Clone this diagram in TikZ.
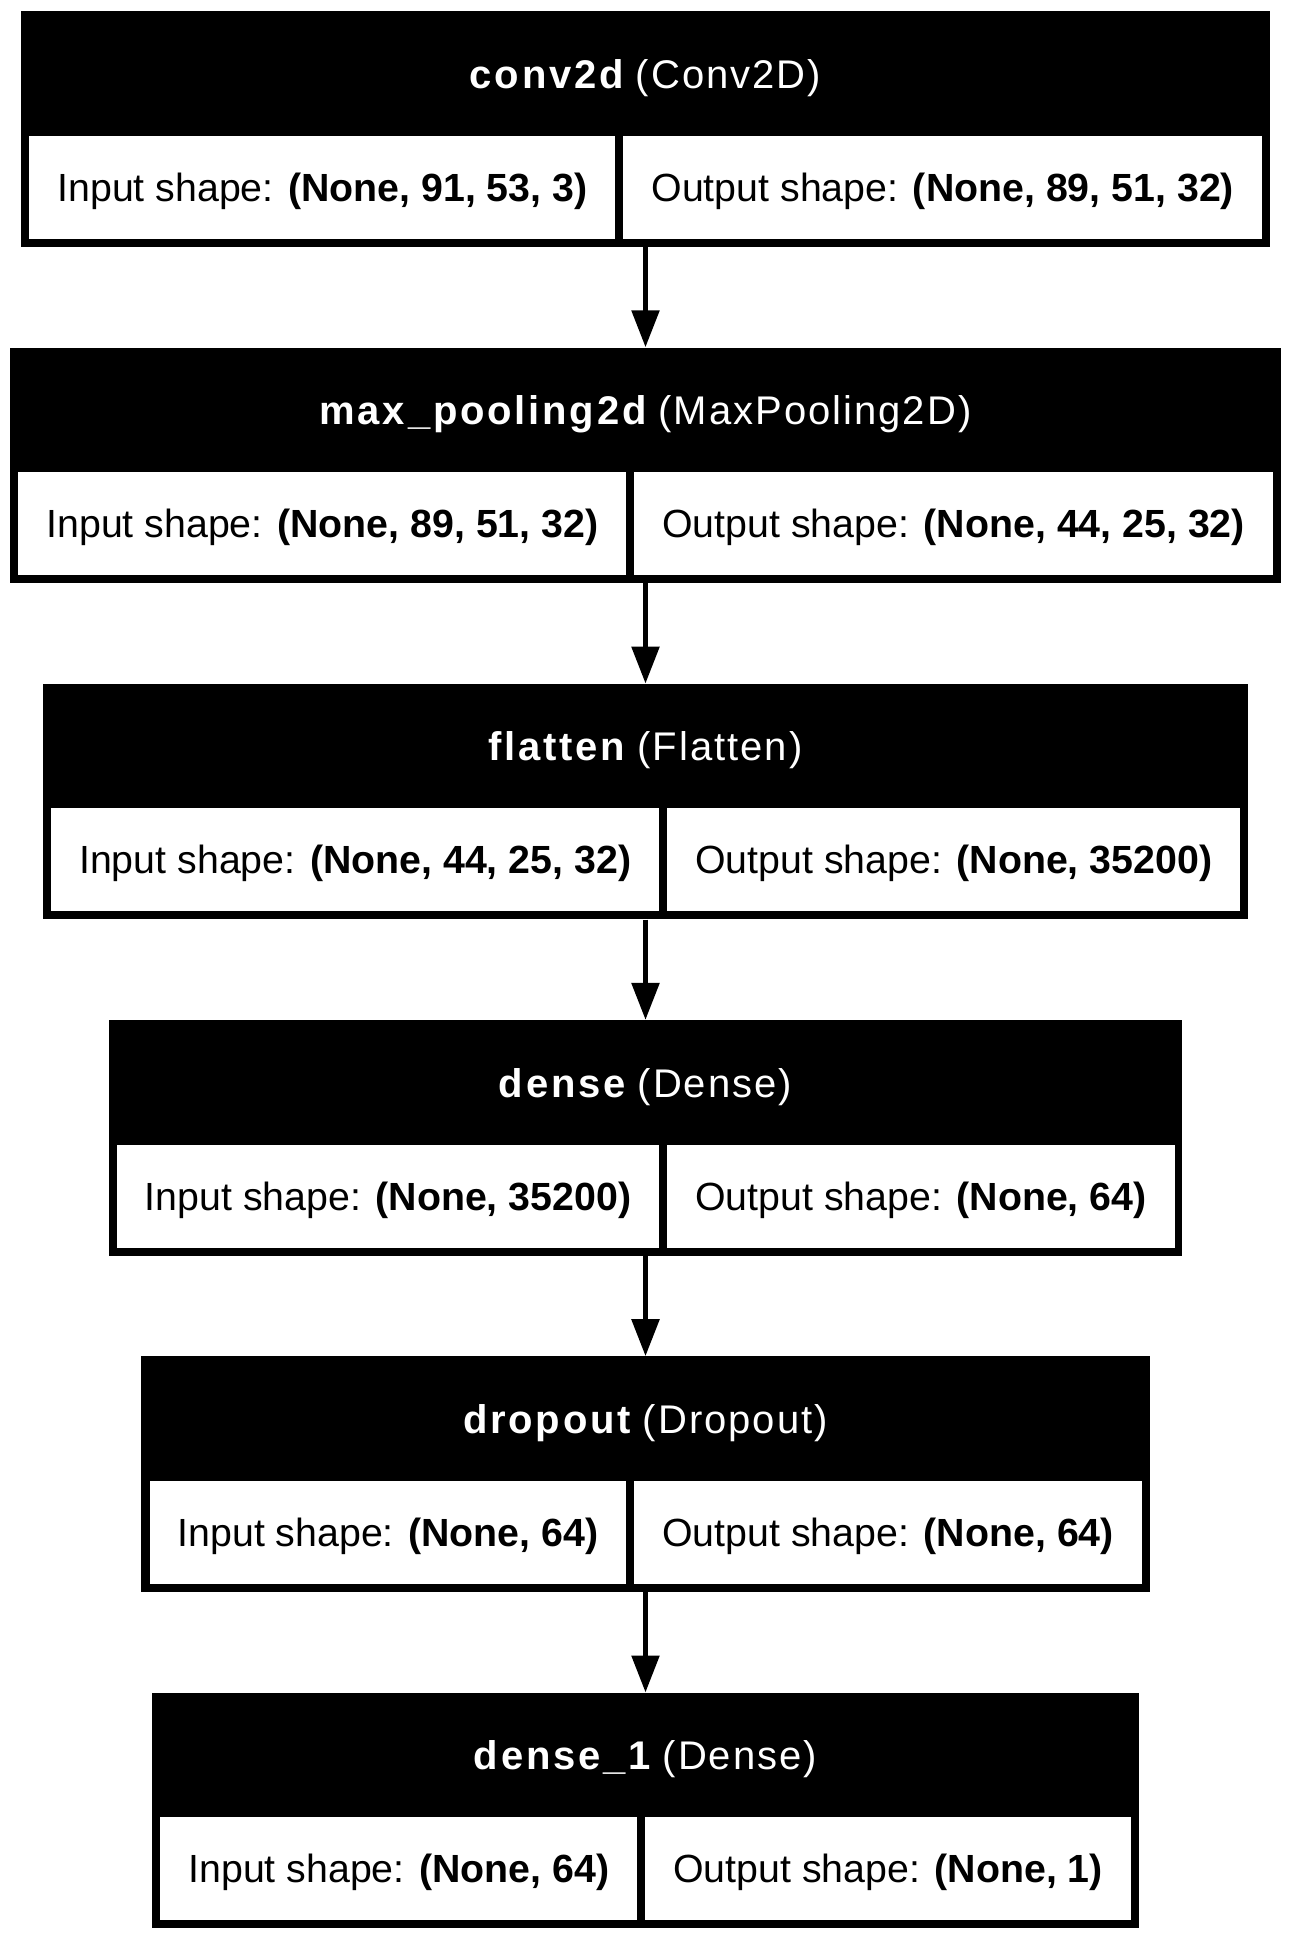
\documentclass[tikz,border=0pt]{standalone}
\usepackage{fontspec}
\setmainfont{Liberation Sans}
\newfontfamily\titleboldfam[LetterSpace=7]{Liberation Sans}
\newfontfamily\titleregfam[LetterSpace=5]{Liberation Sans}
\usetikzlibrary{arrows.meta}
\newlength\layLw
\newlength\layRw
\newcommand\cellsize{\fontsize{39.3}{47}\selectfont}
\newcommand\titlesize{\fontsize{40}{48}\selectfont}
\makeatletter
% measure the two cell texts of a layer (outside the picture, where a real font is active)
\newcommand\measurelayer[3]{%
  \settowidth\layLw{\normalfont\cellsize Input shape: \textbf{#2}}%
  \settowidth\layRw{\normalfont\cellsize Output shape: \textbf{#3}}%
  \expandafter\xdef\csname wL#1\endcsname{\strip@pt\layLw}%
  \expandafter\xdef\csname wR#1\endcsname{\strip@pt\layRw}}
\makeatother
\AtBeginDocument{%
  \measurelayer{conv}{(None, 91, 53, 3)}{(None, 89, 51, 32)}%
  \measurelayer{pool}{(None, 89, 51, 32)}{(None, 44, 25, 32)}%
  \measurelayer{flat}{(None, 44, 25, 32)}{(None, 35200)}%
  \measurelayer{dense}{(None, 35200)}{(None, 64)}%
  \measurelayer{drop}{(None, 64)}{(None, 64)}%
  \measurelayer{denseone}{(None, 64)}{(None, 1)}%
}
\tikzset{
  layerbox/.style={fill=black, draw=none, inner sep=0pt, minimum height=235.5pt},
  cellbox/.style={fill=white, draw=none, inner sep=0pt, minimum height=103pt,
    font=\cellsize, text height=28.2pt, text depth=0pt, anchor=north west},
  titlenode/.style={text=white, font=\titlesize, inner sep=0pt,
    text height=28.6pt, text depth=0pt},
  flow/.style={line width=5.5pt, -{Triangle[width=27pt,length=37pt]}}
}
% #1 name, #2 top, #3 layer name, #4 class, #5 input shape, #6 output shape
\newcommand\nnlayer[6]{%
  \pgfmathsetmacro\bw{\csname wL#1\endcsname+\csname wR#1\endcsname+136}%
  \pgfmathsetmacro\bl{645.5-\bw/2}%
  \pgfmathsetmacro\lw{\csname wL#1\endcsname+56}%
  \pgfmathsetmacro\rw{\csname wR#1\endcsname+56}%
  \pgfmathsetmacro\rx{\bl+8+\lw+8}%
  \node[layerbox, minimum width=\bw pt, anchor=north] (#1) at (645.5,#2) {};
  \node[titlenode] (#1-t) at (645.5,#2+63)
    {{\titleboldfam\bfseries #3}\hspace{0.3em}{\titleregfam (#4)}};
  \node[cellbox, minimum width=\lw pt] (#1-in) at (\bl+8,#2+124.5) {Input shape: \textbf{#5}};
  \node[cellbox, minimum width=\rw pt] (#1-out) at (\rx,#2+124.5) {Output shape: \textbf{#6}};
}
\begin{document}
\begin{tikzpicture}[x=1pt,y=-1pt]
  \useasboundingbox[fill=white] (0,0) rectangle (1292,1939);
  \nnlayer{conv}{11}{conv2d}{Conv2D}{(None, 91, 53, 3)}{(None, 89, 51, 32)}
  \nnlayer{pool}{347.3}{max\_pooling2d}{MaxPooling2D}{(None, 89, 51, 32)}{(None, 44, 25, 32)}
  \nnlayer{flat}{683.6}{flatten}{Flatten}{(None, 44, 25, 32)}{(None, 35200)}
  \nnlayer{dense}{1019.9}{dense}{Dense}{(None, 35200)}{(None, 64)}
  \nnlayer{drop}{1356.2}{dropout}{Dropout}{(None, 64)}{(None, 64)}
  \nnlayer{denseone}{1692.5}{dense\_1}{Dense}{(None, 64)}{(None, 1)}
  \draw[flow] (conv.south) -- (pool.north);
  \draw[flow] (pool.south) -- (flat.north);
  \draw[flow] (flat.south) -- (dense.north);
  \draw[flow] (dense.south) -- (drop.north);
  \draw[flow] (drop.south) -- (denseone.north);
\end{tikzpicture}
\end{document}
